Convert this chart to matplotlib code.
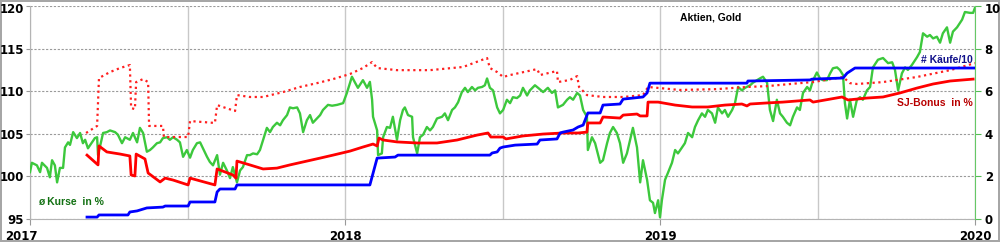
import matplotlib
matplotlib.use("Agg")
import matplotlib.pyplot as plt
import matplotlib.transforms as mtransforms
import numpy as np

# Zeitachse jeweils als Jahresanteil ab 2017
# ø Kurse in % (linke Achse)
t_kurse = [0.000, 0.006, 0.022, 0.032, 0.038, 0.054, 0.063, 0.070, 0.079, 0.086,
           0.095, 0.105, 0.111, 0.121, 0.127, 0.137, 0.149, 0.159, 0.168, 0.175,
           0.184, 0.197, 0.206, 0.213, 0.216, 0.232, 0.244, 0.254, 0.270, 0.279,
           0.292, 0.302, 0.317, 0.327, 0.340, 0.349, 0.359, 0.371, 0.381, 0.390,
           0.403, 0.413, 0.422, 0.435, 0.444, 0.454, 0.467, 0.476, 0.486, 0.498,
           0.508, 0.517, 0.530, 0.540, 0.549, 0.562, 0.571, 0.581, 0.594, 0.603,
           0.613, 0.625, 0.635, 0.644, 0.657, 0.667, 0.676, 0.689, 0.698, 0.708,
           0.721, 0.730, 0.740, 0.752, 0.762, 0.771, 0.784, 0.794, 0.803, 0.816,
           0.825, 0.835, 0.848, 0.857, 0.867, 0.879, 0.889, 0.898, 0.911, 0.921,
           0.930, 0.946, 0.959, 0.975, 0.994, 1.006, 1.022, 1.032, 1.041, 1.057,
           1.070, 1.079, 1.086, 1.089, 1.102, 1.105, 1.117, 1.121, 1.133, 1.143,
           1.152, 1.165, 1.175, 1.184, 1.190, 1.200, 1.213, 1.216, 1.229, 1.238,
           1.248, 1.260, 1.270, 1.279, 1.292, 1.308, 1.317, 1.327, 1.340, 1.349,
           1.359, 1.371, 1.381, 1.390, 1.403, 1.413, 1.422, 1.435, 1.444, 1.451,
           1.460, 1.470, 1.483, 1.492, 1.502, 1.514, 1.524, 1.533, 1.546, 1.556,
           1.565, 1.578, 1.587, 1.603, 1.613, 1.629, 1.644, 1.657, 1.667, 1.676,
           1.692, 1.705, 1.714, 1.724, 1.737, 1.746, 1.756, 1.768, 1.771, 1.784,
           1.794, 1.810, 1.819, 1.832, 1.841, 1.851, 1.863, 1.873, 1.883, 1.895,
           1.905, 1.914, 1.927, 1.937, 1.946, 1.959, 1.968, 1.978, 1.984, 1.994,
           2.000, 2.006, 2.016, 2.025, 2.038, 2.048, 2.057, 2.070, 2.079, 2.089,
           2.102, 2.111, 2.121, 2.133, 2.143, 2.152, 2.165, 2.175, 2.184, 2.197,
           2.206, 2.216, 2.229, 2.238, 2.248, 2.260, 2.270, 2.286, 2.295, 2.308,
           2.317, 2.327, 2.340, 2.349, 2.359, 2.371, 2.381, 2.390, 2.403, 2.413,
           2.422, 2.435, 2.444, 2.454, 2.467, 2.476, 2.486, 2.498, 2.508, 2.517,
           2.530, 2.540, 2.549, 2.562, 2.571, 2.581, 2.587, 2.594, 2.603, 2.613,
           2.625, 2.635, 2.644, 2.657, 2.667, 2.676, 2.692, 2.708, 2.724, 2.737,
           2.746, 2.756, 2.768, 2.778, 2.787, 2.800, 2.816, 2.825, 2.835, 2.848,
           2.857, 2.867, 2.879, 2.889, 2.898, 2.911, 2.921, 2.930, 2.943, 2.959,
           2.968, 2.984, 2.994, 3.000]
kurse = [100.5, 101.6, 101.3, 100.5, 101.6, 101.0, 99.9, 101.9, 101.3, 99.3,
         101.0, 101.0, 103.4, 104.0, 103.7, 105.2, 104.5, 105.1, 103.9, 104.3,
         103.3, 104.0, 104.5, 104.6, 102.5, 105.1, 105.2, 105.4, 105.2, 104.9,
         103.9, 104.6, 104.3, 105.1, 104.0, 105.7, 105.1, 102.9, 103.1, 103.4,
         103.9, 104.0, 104.5, 104.6, 104.3, 104.6, 104.3, 104.0, 102.3, 103.1,
         102.2, 103.1, 103.9, 104.0, 103.3, 102.3, 101.7, 101.3, 102.5, 100.2,
         101.6, 100.7, 99.8, 101.1, 99.3, 100.7, 101.1, 102.5, 102.5, 102.7,
         102.6, 103.1, 104.3, 105.7, 105.2, 105.8, 106.3, 106.0, 106.6, 107.2,
         108.1, 108.0, 108.1, 107.4, 105.2, 106.6, 107.2, 106.3, 106.8, 107.2,
         107.8, 108.4, 108.3, 108.4, 108.6, 109.8, 111.7, 111.0, 110.4, 111.3,
         110.4, 111.1, 109.0, 107.0, 105.4, 102.5, 102.7, 104.6, 105.8, 105.7,
         107.0, 104.3, 106.6, 107.8, 108.1, 107.2, 107.0, 104.6, 102.7, 104.6,
         104.9, 105.8, 105.4, 105.8, 106.8, 107.0, 107.4, 106.6, 107.8, 108.1,
         108.7, 109.9, 110.4, 109.9, 110.5, 110.1, 110.4, 110.5, 110.7, 111.5,
         110.4, 110.1, 108.1, 107.4, 107.8, 109.0, 108.6, 109.3, 109.2, 109.5,
         110.4, 109.5, 110.1, 110.7, 110.4, 109.9, 110.4, 109.8, 110.1, 108.1,
         108.4, 109.0, 109.3, 109.0, 109.8, 109.5, 107.8, 107.0, 103.1, 104.6,
         103.9, 101.6, 101.9, 103.9, 105.1, 105.8, 105.1, 103.9, 101.6, 102.7,
         104.3, 105.7, 103.4, 99.3, 101.9, 99.6, 97.2, 96.9, 95.7, 97.2,
         95.2, 97.2, 99.6, 100.4, 101.6, 103.1, 102.7, 103.4, 103.9, 105.1,
         104.6, 105.8, 106.6, 107.4, 107.0, 107.8, 107.4, 106.3, 108.1, 107.4,
         107.8, 107.0, 107.8, 108.6, 110.5, 110.1, 110.4, 110.7, 111.0, 111.3,
         111.5, 111.7, 111.0, 107.8, 106.5, 109.0, 107.4, 107.0, 106.3, 106.0,
         107.0, 108.1, 107.8, 109.8, 110.5, 110.1, 111.3, 112.2, 111.5, 111.3,
         111.3, 112.1, 112.7, 112.8, 112.5, 111.9, 108.6, 106.8, 109.0, 107.0,
         109.0, 109.3, 109.0, 110.1, 110.5, 112.8, 113.7, 113.9, 113.3, 113.4,
         112.5, 110.1, 112.1, 112.8, 112.5, 113.1, 114.0, 114.6, 116.8, 116.4,
         116.6, 116.2, 116.4, 115.7, 116.8, 117.5, 115.7, 117.0, 117.5, 118.4,
         119.3, 119.2, 119.2, 119.8]

# SJ-Bonus in % (rechte Achse)
t_bonus = [0.181, 0.216, 0.219, 0.244, 0.286, 0.317, 0.321, 0.333, 0.337, 0.365,
           0.375, 0.413, 0.429, 0.454, 0.502, 0.508, 0.587, 0.594, 0.644, 0.654,
           0.657, 0.698, 0.740, 0.784, 0.825, 0.867, 0.921, 0.962, 1.016, 1.057,
           1.089, 1.102, 1.108, 1.121, 1.165, 1.229, 1.292, 1.356, 1.419, 1.454,
           1.463, 1.502, 1.511, 1.565, 1.629, 1.692, 1.740, 1.768, 1.771, 1.810,
           1.819, 1.873, 1.883, 1.927, 1.937, 1.959, 1.962, 1.994, 2.048, 2.102,
           2.152, 2.206, 2.260, 2.276, 2.286, 2.340, 2.390, 2.476, 2.486, 2.540,
           2.578, 2.597, 2.657, 2.708, 2.762, 2.816, 2.867, 2.921, 2.994]
bonus = [3.00, 2.54, 3.43, 3.15, 3.05, 2.96, 2.07, 2.02, 3.05, 2.82,
         2.16, 1.74, 1.92, 1.83, 1.60, 1.92, 1.60, 2.35, 2.07, 1.92,
         2.72, 2.54, 2.35, 2.39, 2.54, 2.68, 2.86, 3.00, 3.19, 3.38,
         3.52, 3.43, 3.80, 3.71, 3.62, 3.57, 3.57, 3.71, 3.94, 4.04,
         3.85, 3.85, 3.76, 3.90, 3.99, 4.04, 4.04, 4.08, 4.51, 4.51,
         4.79, 4.74, 4.88, 4.93, 4.84, 4.84, 5.49, 5.49, 5.35, 5.26,
         5.26, 5.35, 5.40, 5.31, 5.40, 5.45, 5.49, 5.59, 5.49, 5.63,
         5.73, 5.59, 5.68, 5.73, 5.92, 6.15, 6.34, 6.48, 6.57]

# gepunktete Linie (rechte Achse)
t_punkt = [0.178, 0.213, 0.219, 0.254, 0.286, 0.317, 0.321, 0.333, 0.337, 0.359,
           0.375, 0.378, 0.422, 0.425, 0.502, 0.508, 0.587, 0.594, 0.651, 0.657,
           0.698, 0.740, 0.803, 0.857, 0.911, 0.962, 1.016, 1.057, 1.086, 1.102,
           1.165, 1.270, 1.375, 1.451, 1.460, 1.483, 1.502, 1.524, 1.610, 1.619,
           1.673, 1.676, 1.714, 1.737, 1.743, 1.768, 1.819, 1.883, 1.946, 1.962,
           2.063, 2.181, 2.276, 2.340, 2.444, 2.486, 2.581, 2.603, 2.625, 2.708,
           2.816, 2.921, 3.000]
punkt = [4.04, 4.37, 6.62, 6.90, 7.09, 7.23, 5.21, 5.16, 6.43, 6.57,
         6.43, 4.37, 4.37, 3.85, 3.85, 4.60, 4.51, 5.35, 5.07, 5.82,
         5.73, 5.73, 5.96, 6.20, 6.38, 6.57, 6.81, 7.09, 7.37, 7.09,
         6.99, 6.99, 7.14, 7.56, 7.09, 6.90, 6.67, 6.76, 7.04, 6.76,
         6.95, 6.43, 6.53, 6.71, 6.20, 5.82, 5.73, 5.73, 5.82, 6.20,
         6.06, 6.10, 6.20, 6.24, 6.38, 6.43, 6.67, 6.38, 6.34, 6.43,
         6.67, 6.99, 7.32]

# # Käufe/10 (rechte Achse)
t_kaeufe = [0.181, 0.213, 0.219, 0.311, 0.317, 0.340, 0.371, 0.422, 0.429, 0.502,
            0.508, 0.587, 0.594, 0.603, 0.651, 0.657, 1.079, 1.102, 1.159, 1.168,
            1.460, 1.467, 1.483, 1.492, 1.502, 1.540, 1.610, 1.619, 1.673, 1.683,
            1.692, 1.724, 1.740, 1.756, 1.771, 1.810, 1.819, 1.873, 1.883, 1.946,
            1.959, 1.968, 2.276, 2.279, 2.476, 2.483, 2.581, 2.594, 2.619, 3.000]
kaeufe = [0.09, 0.09, 0.19, 0.19, 0.33, 0.38, 0.52, 0.56, 0.61, 0.61,
          0.80, 0.80, 1.27, 1.41, 1.41, 1.60, 1.60, 2.86, 2.91, 3.00,
          3.00, 3.10, 3.15, 3.33, 3.38, 3.47, 3.52, 3.71, 3.76, 4.04,
          4.08, 4.18, 4.32, 4.41, 4.98, 4.98, 5.35, 5.40, 5.63, 5.73,
          5.92, 6.38, 6.38, 6.48, 6.53, 6.57, 6.62, 6.85, 7.09, 7.09]

start = 2017
jahre = [2017, 2018, 2019, 2020]

plt.rcParams['font.family'] = ['DejaVu Sans']
fig = plt.figure(figsize=(10, 2.42), dpi=100)
fig.patch.set_edgecolor('#a6a6a6')
fig.patch.set_linewidth(1.5)
ax = fig.add_axes([0.030, 0.095, 0.945, 0.880])
ax2 = ax.twinx()

ax.plot(start + np.array(t_kurse), kurse, color='#3cc83c', lw=1.7, zorder=3)
ax2.plot(start + np.array(t_punkt), punkt, color='#ff2020', lw=1.6,
         linestyle=(0, (1, 1.6)), zorder=2)
ax2.plot(start + np.array(t_bonus), bonus, color='#ff0000', lw=2.0, zorder=3)
ax2.plot(start + np.array(t_kaeufe), kaeufe, color='#0000ff', lw=2.0, zorder=4)

ax.set_xlim(2017, 2020)
ax.set_ylim(95, 120)
ax2.set_ylim(0, 10)
ax.set_yticks(np.arange(95, 121, 5))
ax2.set_yticks(np.arange(0, 11, 2))
ax.set_xticks(jahre)
ax.set_xticklabels([str(j) for j in jahre])
ax.set_xticks(np.arange(2017.5, 2020, 1), minor=True)

ax.grid(axis='y', color='#9a9a9a', linestyle=(0, (2, 1.5)), linewidth=0.8)
ax.grid(axis='x', which='both', color='#c8c8c8', linestyle='-', linewidth=1.0)
ax.set_axisbelow(True)

ax.spines['top'].set_visible(False)
ax2.spines['top'].set_visible(False)
ax.spines['left'].set_color('#b4b4b4')
ax.spines['bottom'].set_color('#b4b4b4')
ax2.spines['left'].set_visible(False)
ax2.spines['bottom'].set_visible(False)
ax2.spines['right'].set_color('#66c866')
ax.spines['right'].set_visible(False)

ax.tick_params(axis='y', length=3, color='#999999', pad=1.5, labelsize=8.5)
ax.tick_params(axis='x', which='major', length=4, color='#999999', pad=4, labelsize=8.5)
ax.tick_params(axis='x', which='minor', length=0)
ax2.tick_params(axis='y', length=4, color='#55bb55', pad=3, labelsize=8.5)
for lbl in ax.get_yticklabels() + ax.get_xticklabels() + ax2.get_yticklabels():
    lbl.set_fontweight('bold')

# 2017 etwas nach links wie im Original
first = ax.get_xticklabels()[0]
first.set_transform(first.get_transform() +
                    mtransforms.ScaledTranslation(-9 / 100, 0, fig.dpi_scale_trans))
# 120 und 10 leicht nach unten, damit sie nicht am Rand kleben
for lbl in [ax.get_yticklabels()[-1], ax2.get_yticklabels()[-1]]:
    lbl.set_transform(lbl.get_transform() +
                      mtransforms.ScaledTranslation(0, -1.5 / 100, fig.dpi_scale_trans))

schrift = ['Liberation Sans', 'DejaVu Sans']
ax.text(0.72, 0.944, 'Aktien, Gold', transform=ax.transAxes, fontsize=7.5,
        fontweight='bold', color='black', ha='center', va='center', family=schrift)
ax.text(0.998, 0.746, '# Käufe/10', transform=ax.transAxes, fontsize=7.5,
        fontweight='bold', color='#10108a', ha='right', va='center', family=schrift)
ax.text(0.998, 0.545, 'SJ-Bonus  in %', transform=ax.transAxes, fontsize=7.5,
        fontweight='bold', color='#b80000', ha='right', va='center', family=schrift)
ax.text(0.008, 0.080, 'ø Kurse  in %', transform=ax.transAxes, fontsize=7.5,
        fontweight='bold', color='#127012', ha='left', va='center', family=schrift)

fig.savefig('out.png', dpi=100, edgecolor=fig.get_edgecolor())
